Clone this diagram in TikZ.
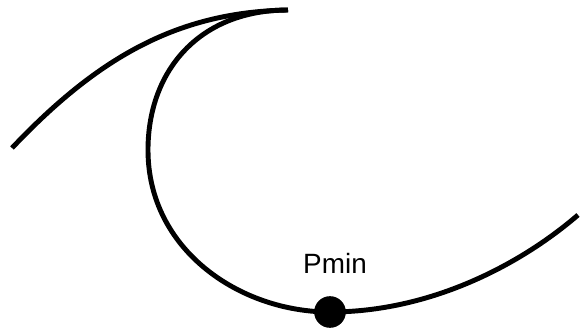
\documentclass[tikz,border=0pt]{standalone}
\usepackage{fontspec}
\setmainfont{Liberation Sans}
\tikzset{
  curve/.style={line width=4.2pt},
  mindot/.style={circle,fill=black,minimum size=27pt,inner sep=0pt},
  minlab/.style={font=\fontsize{23.8}{28}\selectfont}
}
\begin{document}
\begin{tikzpicture}[x=0.03cm,y=-0.03cm]
  \useasboundingbox (0,0) rectangle (580,332);
  \coordinate (start) at (12,148);
  \coordinate (tip) at (288,10);
  \coordinate (left) at (148,150);
  \coordinate (bottom) at (330,312);
  \coordinate (end) at (578,215);
  % outer branch
  \draw[curve] (start) .. controls (100,55) and (180,12) .. (tip);
  % inner branch down to the minimum
  \draw[curve] (tip) .. controls (200,10) and (148,70) .. (left)
    .. controls (148,250) and (240,312) .. (bottom)
    .. controls (430,312) and (520,265) .. (end);
  \node[mindot] (pmin) at (bottom) {};
  \node[minlab] (lab) at (335,263) {Pmin};
\end{tikzpicture}
\end{document}
